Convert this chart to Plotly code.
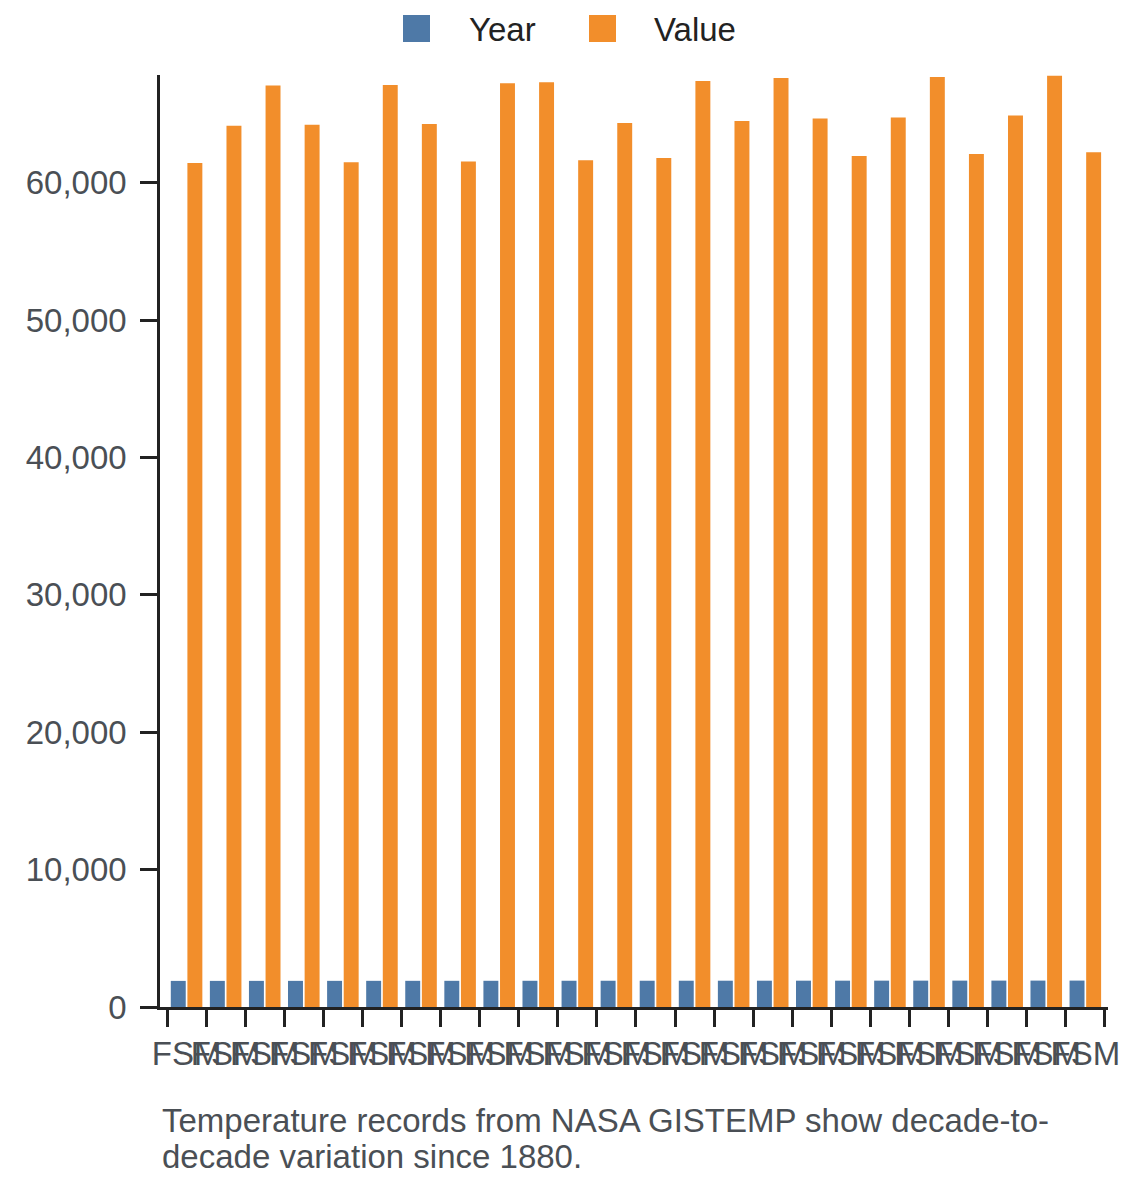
import plotly.graph_objects as go

# data
labels = ["FSM"] * 24
years = [1900, 1901, 1902, 1903, 1904, 1905, 1906, 1907, 1908, 1909, 1910, 1911,
         1912, 1913, 1914, 1915, 1916, 1917, 1918, 1919, 1920, 1921, 1922, 1923]
values = [61450, 64150, 67080, 64220, 61500, 67130, 64290, 61550, 67250, 67320, 61650, 64360,
          61800, 67420, 64510, 67640, 64680, 61960, 64750, 67710, 62090, 64900, 67800, 62230]
series = ["Year", "Value"]
colors = ["#4e79a7", "#f28e2b"]
caption_lines = [
    "Temperature records from NASA GISTEMP show decade-to-",
    "decade variation since 1880.",
]

# the page adds an 8px body margin, so work in page pixels and shift back
OFF = 8
W, H = 1140, 1182
M = dict(l=160 - OFF, r=W - (1108 - OFF), t=75 - OFF, b=H - (1007 - OFF))
FONT = "Liberation Sans, Arial, sans-serif"
TEXT = "#4a4f55"
AXIS = "#222222"
FS = 33


def px_x(x):
    return (x - OFF - M["l"]) / (W - M["l"] - M["r"])


def px_y(y):
    return (H - M["b"] - (y - OFF)) / (H - M["t"] - M["b"])


idx = list(range(len(labels)))

fig = go.Figure()
for name, ys, color in zip(series, [years, values], colors):
    fig.add_trace(
        go.Bar(
            x=idx,
            y=ys,
            name=name,
            marker_color=color,
            marker_line_width=0,
            showlegend=False,
        )
    )

# legend drawn by hand so the swatches match the reference size
legend_pos = [(403, 467), (589, 652)]
shapes = []
annotations = []
for (sx, tx), name, color in zip(legend_pos, series, colors):
    shapes.append(
        dict(
            type="rect",
            xref="paper",
            yref="paper",
            x0=px_x(sx),
            x1=px_x(sx + 27),
            y0=px_y(42),
            y1=px_y(15),
            fillcolor=color,
            line_width=0,
            layer="above",
        )
    )
    annotations.append(
        dict(
            text=name,
            xref="paper",
            yref="paper",
            x=px_x(tx),
            y=px_y(29),
            xanchor="left",
            yanchor="middle",
            showarrow=False,
            font=dict(size=FS, color=AXIS, family=FONT),
        )
    )

# caption, one annotation per line for the tighter line spacing
for i, line in enumerate(caption_lines):
    annotations.append(
        dict(
            text=line,
            xref="paper",
            yref="paper",
            x=0,
            y=px_y(1120 + 36 * i),
            xanchor="left",
            yanchor="middle",
            align="left",
            showarrow=False,
            font=dict(size=FS, color=TEXT, family=FONT),
        )
    )

fig.update_layout(
    width=W,
    height=H,
    margin=dict(**M, pad=0),
    paper_bgcolor="white",
    plot_bgcolor="white",
    barmode="group",
    bargap=0.15,
    bargroupgap=0.1,
    font=dict(family=FONT, size=FS, color=TEXT),
    shapes=shapes,
    annotations=annotations,
    xaxis=dict(
        type="category",
        tickmode="array",
        tickvals=idx,
        ticktext=labels,
        tickson="boundaries",
        tickangle=0,
        range=[-0.68, len(labels) - 0.42],
        showline=True,
        linecolor=AXIS,
        linewidth=2.5,
        ticks="outside",
        ticklen=17,
        tickwidth=2.5,
        tickcolor=AXIS,
        showgrid=False,
        zeroline=False,
        ticklabelstandoff=16,
        tickfont=dict(size=FS, color=TEXT),
    ),
    yaxis=dict(
        range=[0, 67850],
        tickvals=[0, 10000, 20000, 30000, 40000, 50000, 60000],
        tickformat=",d",
        showline=True,
        linecolor=AXIS,
        linewidth=2.5,
        ticks="outside",
        ticklen=17,
        tickwidth=2.5,
        tickcolor=AXIS,
        showgrid=False,
        zeroline=False,
        ticklabelstandoff=7,
        tickfont=dict(size=FS, color=TEXT),
    ),
)

fig.write_html("out.html")
